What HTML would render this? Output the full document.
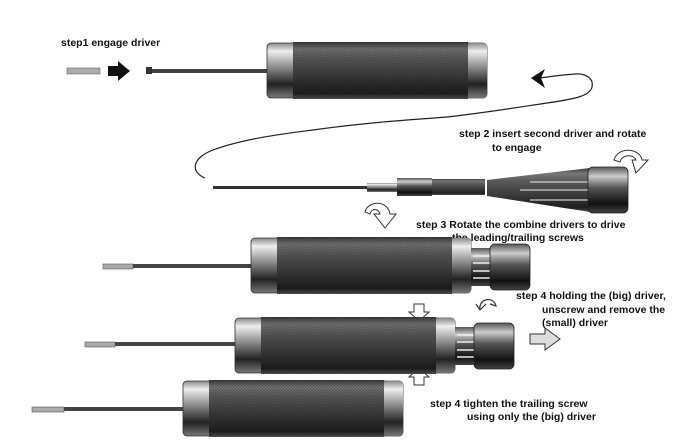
<!DOCTYPE html>
<html><head><meta charset="utf-8"><style>
html,body{margin:0;padding:0;background:#fff;}
svg{display:block;}
text{font-family:"Liberation Sans",Arial,sans-serif;font-weight:bold;font-size:10.5px;fill:#111;}
</style></head><body>
<svg width="700" height="448" viewBox="0 0 700 448" xmlns="http://www.w3.org/2000/svg">
<defs>
<linearGradient id="cyl" x1="0" y1="0" x2="0" y2="1">
<stop offset="0" stop-color="#3a3a3a"/><stop offset="0.12" stop-color="#777"/><stop offset="0.3" stop-color="#5a5a5a"/><stop offset="0.6" stop-color="#3c3c3c"/><stop offset="0.9" stop-color="#1e1e1e"/><stop offset="1" stop-color="#555"/>
</linearGradient>
<linearGradient id="ring" x1="0" y1="0" x2="0" y2="1">
<stop offset="0" stop-color="#888"/><stop offset="0.15" stop-color="#eee"/><stop offset="0.4" stop-color="#999"/><stop offset="0.75" stop-color="#222"/><stop offset="1" stop-color="#777"/>
</linearGradient>
<linearGradient id="capg" x1="0" y1="0" x2="0" y2="1">
<stop offset="0" stop-color="#555"/><stop offset="0.2" stop-color="#ccc"/><stop offset="0.45" stop-color="#555"/><stop offset="0.8" stop-color="#111"/><stop offset="1" stop-color="#444"/>
</linearGradient>
<pattern id="kn" width="3" height="3" patternUnits="userSpaceOnUse">
<path d="M0 0L3 3M3 0L0 3" stroke="#000" stroke-opacity="0.25" stroke-width="0.6"/>
</pattern>
<g id="handle">
<rect x="0" y="0" width="220" height="55" rx="4" fill="url(#ring)" stroke="#333" stroke-width="0.8"/>
<rect x="26" y="-1" width="175" height="57" fill="url(#cyl)"/>
<rect x="26" y="-1" width="175" height="57" fill="url(#kn)"/>
<rect x="201" y="0" width="19" height="55" rx="3" fill="url(#ring)"/>
</g>
<g id="capgrp">
<rect x="0" y="4" width="20" height="38" fill="url(#capg)"/>
<path d="M2 12H20M2 19H20M2 27H20M2 34H20" stroke="#eee" stroke-width="1.5"/>
<rect x="19" y="0" width="40" height="46" rx="5" fill="url(#capg)" stroke="#222" stroke-width="0.8"/>
</g>
</defs>

<!-- step 1 -->
<text x="61" y="46">step1  engage driver</text>
<rect x="67" y="68" width="33" height="6" fill="#aaa" stroke="#666" stroke-width="0.6"/>
<path d="M108 66H118V61L130 71L118 81V76H108Z" fill="#111"/>
<rect x="146" y="67" width="6" height="7" fill="#333"/>
<rect x="152" y="69" width="115" height="4" fill="#444"/>
<use href="#handle" x="267" y="43"/>

<!-- curve -->
<path d="M205 178C190 172 192 158 213 150C245 138 290 133 313 130C370 122 410 120 447 117C490 112 520 107 547 103C575 99 590 96 592 87C594 78 585 73 575 74C560 75 548 77 540 78" fill="none" stroke="#222" stroke-width="1.2"/>
<path d="M531 78L545 69L541 78L545 88Z" fill="#111"/>

<!-- step 2 -->
<text x="459" y="137">step 2 insert second driver and rotate</text>
<text x="492" y="151">to engage</text>
<path d="M614 160C618 146 640 148 642 160L648 160L636 173L632 160L636 160C634 154 622 154 620 162Z" fill="#fff" stroke="#333"/>
<rect x="213" y="186" width="154" height="3" fill="#333"/>
<rect x="367" y="183" width="30" height="9" fill="url(#ring)"/>
<rect x="397" y="178" width="35" height="18" fill="url(#capg)"/>
<rect x="432" y="179" width="53" height="16" fill="url(#cyl)"/>
<path d="M487 180L590 168V212L487 196Z" fill="url(#cyl)"/>
<path d="M530 182H588M520 190H588M530 200H588" stroke="#ccc" stroke-width="1.2"/>
<rect x="588" y="167" width="40" height="46" rx="5" fill="url(#capg)" stroke="#222" stroke-width="0.8"/>

<!-- step 3 -->
<path d="M365 212C368 200 388 200 390 214L396 214L385 228L374 214L380 214C378 208 372 208 370 214Z" fill="#fff" stroke="#333"/>
<text x="416" y="228">step 3  Rotate the combine drivers to drive</text>
<text x="452" y="241">the leading/trailing screws</text>
<rect x="103" y="264" width="30" height="5" fill="#aaa" stroke="#555" stroke-width="0.6"/>
<rect x="133" y="264" width="118" height="4" fill="#444"/>
<use href="#handle" x="251" y="238"/>
<use href="#capgrp" x="471" y="244"/>

<!-- step 4a -->
<text x="516" y="299">step 4 holding the (big) driver,</text>
<text x="542" y="313">unscrew and remove the</text>
<text x="542" y="326">(small) driver</text>
<path d="M414 304H424V312H429L419 321L409 312H414Z" fill="#fff" stroke="#333"/>
<path d="M414 385H424V377H429L419 368L409 377H414Z" fill="#fff" stroke="#333"/>
<path d="M480 310C478 298 494 296 496 306L490 304M480 310L476 304M480 310L486 304" fill="none" stroke="#333" stroke-width="1.2"/>
<path d="M530 334H545V328L560 339L545 350V344H530Z" fill="#ddd" stroke="#333"/>
<rect x="85" y="342" width="30" height="5" fill="#aaa" stroke="#555" stroke-width="0.6"/>
<rect x="115" y="342" width="120" height="4" fill="#444"/>
<use href="#handle" x="235" y="318"/>
<use href="#capgrp" x="455" y="323"/>

<!-- step 4b -->
<text x="430" y="407">step 4  tighten the trailing screw</text>
<text x="467" y="420">using only the (big) driver</text>
<rect x="32" y="407" width="32" height="5" fill="#aaa" stroke="#555" stroke-width="0.6"/>
<rect x="64" y="407" width="120" height="4" fill="#444"/>
<use href="#handle" x="183" y="381"/>
</svg>
</body></html>
